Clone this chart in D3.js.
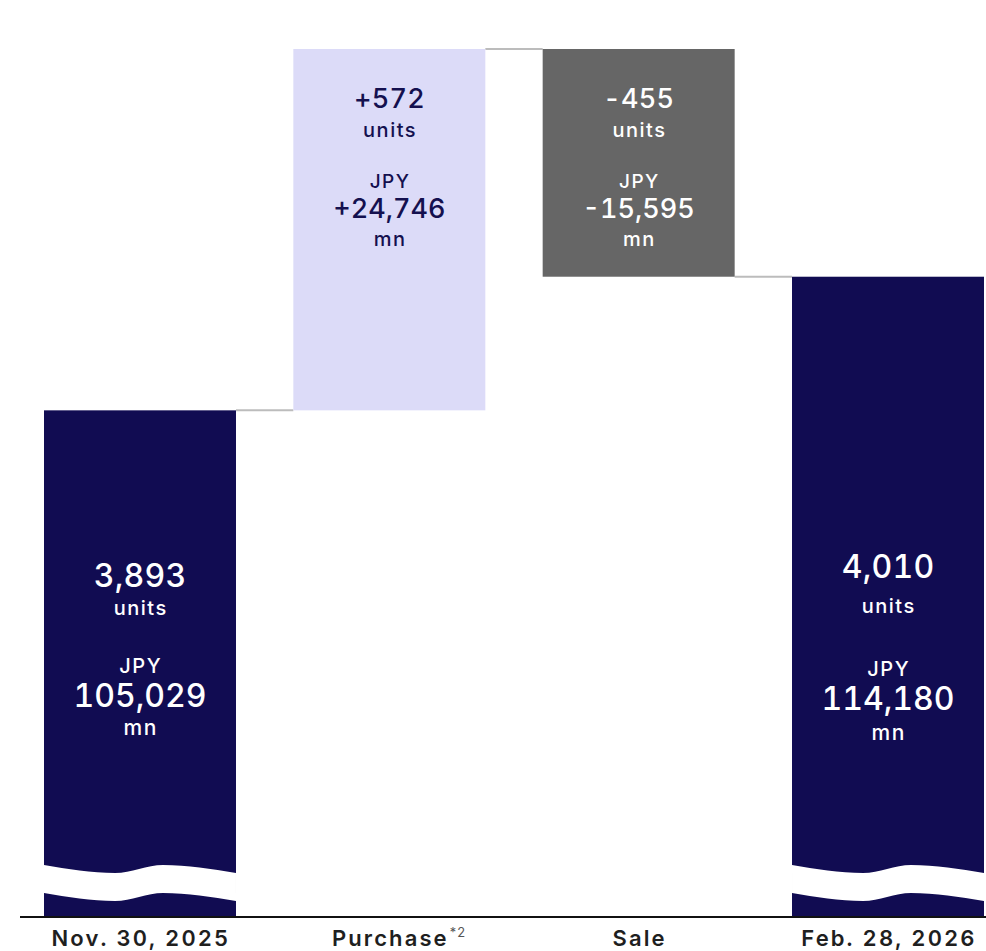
<!DOCTYPE html>
<html>
<head>
<meta charset="utf-8">
<script src="https://cdn.jsdelivr.net/npm/d3@7"></script>
<style>
  html, body { margin: 0; padding: 0; background: #ffffff; }
  svg { display: block; }
  text { font-family: Inter, "Noto Sans", sans-serif; font-variant-numeric: tabular-nums; }
</style>
</head>
<body>
<svg id="chart" width="986" height="951"></svg>
<script>
// Portfolio bridge: start balance, purchases, sales, end balance
const categories = ["Nov. 30, 2025", "Purchase", "Sale", "Feb. 28, 2026"];
const footnotes  = ["", "*2", "", ""];
const kinds      = ["total", "increase", "decrease", "total"];
const units      = [3893, 572, -455, 4010];          // number of units
const amounts    = [105029, 24746, -15595, 114180];  // JPY mn

// Broken value axis: bars for totals start from this floor
const axisFloor = 70400;
const axisTop   = 129775;

const colors = { total: "#110c52", increase: "#dcdbf8", decrease: "#666666" };
const textColors = { total: "#ffffff", increase: "#14104f", decrease: "#ffffff" };

const svg = d3.select("#chart");

const x = d3.scaleBand()
  .domain(categories)
  .range([44, 984])
  .paddingInner(0.23)
  .paddingOuter(0);

const y = d3.scaleLinear()
  .domain([axisFloor, axisTop])
  .range([916, 49]);

// Running levels for the waterfall
let running = 0;
const bars = categories.map((c, i) => {
  let lo, hi;
  if (kinds[i] === "total") {
    running = amounts[i];
    lo = axisFloor; hi = amounts[i];
  } else {
    const start = running;
    running += amounts[i];
    lo = Math.min(start, running); hi = Math.max(start, running);
  }
  return { cat: c, i, kind: kinds[i], lo, hi, level: running };
});

// Connectors between consecutive bars
svg.append("g").selectAll("line")
  .data(bars.slice(0, -1))
  .join("line")
  .attr("x1", d => x(d.cat) + x.bandwidth())
  .attr("x2", d => x(categories[d.i + 1]))
  .attr("y1", d => y(d.level))
  .attr("y2", d => y(d.level))
  .attr("stroke", "#bcbcbc")
  .attr("stroke-width", 2);

// Bars
svg.append("g").selectAll("rect")
  .data(bars)
  .join("rect")
  .attr("x", d => x(d.cat))
  .attr("y", d => y(d.hi))
  .attr("width", x.bandwidth())
  .attr("height", d => y(d.lo) - y(d.hi))
  .attr("fill", d => colors[d.kind]);

// Wavy break across the truncated total bars
const breakTop = y(axisFloor) - 51;
const wave = [[0, 0], [0.37, 8], [0.62, 0], [1, 8]];
const waveArea = d3.area()
  .x(p => p.x)
  .y0(p => p.y)
  .y1(p => p.y + 28)
  .curve(d3.curveMonotoneX);
svg.append("g").selectAll("path")
  .data(bars.filter(d => d.kind === "total"))
  .join("path")
  .attr("d", d => waveArea(wave.map(([fx, dy]) => ({
    x: x(d.cat) + fx * x.bandwidth(),
    y: breakTop + dy
  }))))
  .attr("fill", "#ffffff");

// Value labels inside bars
const fmtTotal = d3.format(",");
const fmtDelta = d3.format("+,");
const labelLayout = {
  total: [
    [587, 615, 673, 707, 735],
    [578, 613, 676, 710, 740]
  ],
  delta: [59, 88, 139, 169, 197]
};
const sizes = {
  total: [32, 20, 20, 32, 21],
  delta: [27, 20, 19, 27, 20]
};
const spacing = [0.3, 1.5, 1.5, 0, 1.5];
let totalIdx = 0;
bars.forEach(d => {
  const isTotal = d.kind === "total";
  const fmt = isTotal ? fmtTotal : fmtDelta;
  const lines = [fmt(units[d.i]), "units", "JPY", fmt(amounts[d.i]), "mn"]
    .map(s => s.replace("−", "-"));
  const ys = isTotal
    ? labelLayout.total[totalIdx++]
    : labelLayout.delta.map(o => y(d.hi) + o);
  const sz = isTotal ? sizes.total : sizes.delta;
  const cx = x(d.cat) + x.bandwidth() / 2;
  const g = svg.append("g")
    .attr("fill", textColors[d.kind])
    .attr("text-anchor", "middle");
  lines.forEach((t, k) => {
    g.append("text")
      .attr("x", cx + spacing[k] / 2)
      .attr("y", ys[k])
      .attr("font-size", sz[k])
      .attr("font-weight", 500)
      .attr("letter-spacing", spacing[k])
      .text(t);
  });
});

// Baseline
svg.append("line")
  .attr("x1", 20).attr("x2", 986)
  .attr("y1", 917).attr("y2", 917)
  .attr("stroke", "#111111")
  .attr("stroke-width", 2);

// Category labels, centred on the bar; footnote marks hang after the label
const catG = svg.append("g").selectAll("g")
  .data(categories)
  .join("g");
catG.append("text")
  .attr("x", c => x(c) + x.bandwidth() / 2 + 1)
  .attr("y", 945.5)
  .attr("text-anchor", "middle")
  .attr("font-size", 22)
  .attr("font-weight", 600)
  .attr("letter-spacing", 2.1)
  .attr("fill", "#1f1f1f")
  .text(c => c);
catG.append("text")
  .attr("x", function(c) {
    const box = this.parentNode.querySelector("text").getBBox();
    return box.x + box.width;
  })
  .attr("y", 937)
  .attr("font-size", 13)
  .attr("fill", "#555555")
  .text((c, i) => footnotes[i]);
</script>
</body>
</html>
